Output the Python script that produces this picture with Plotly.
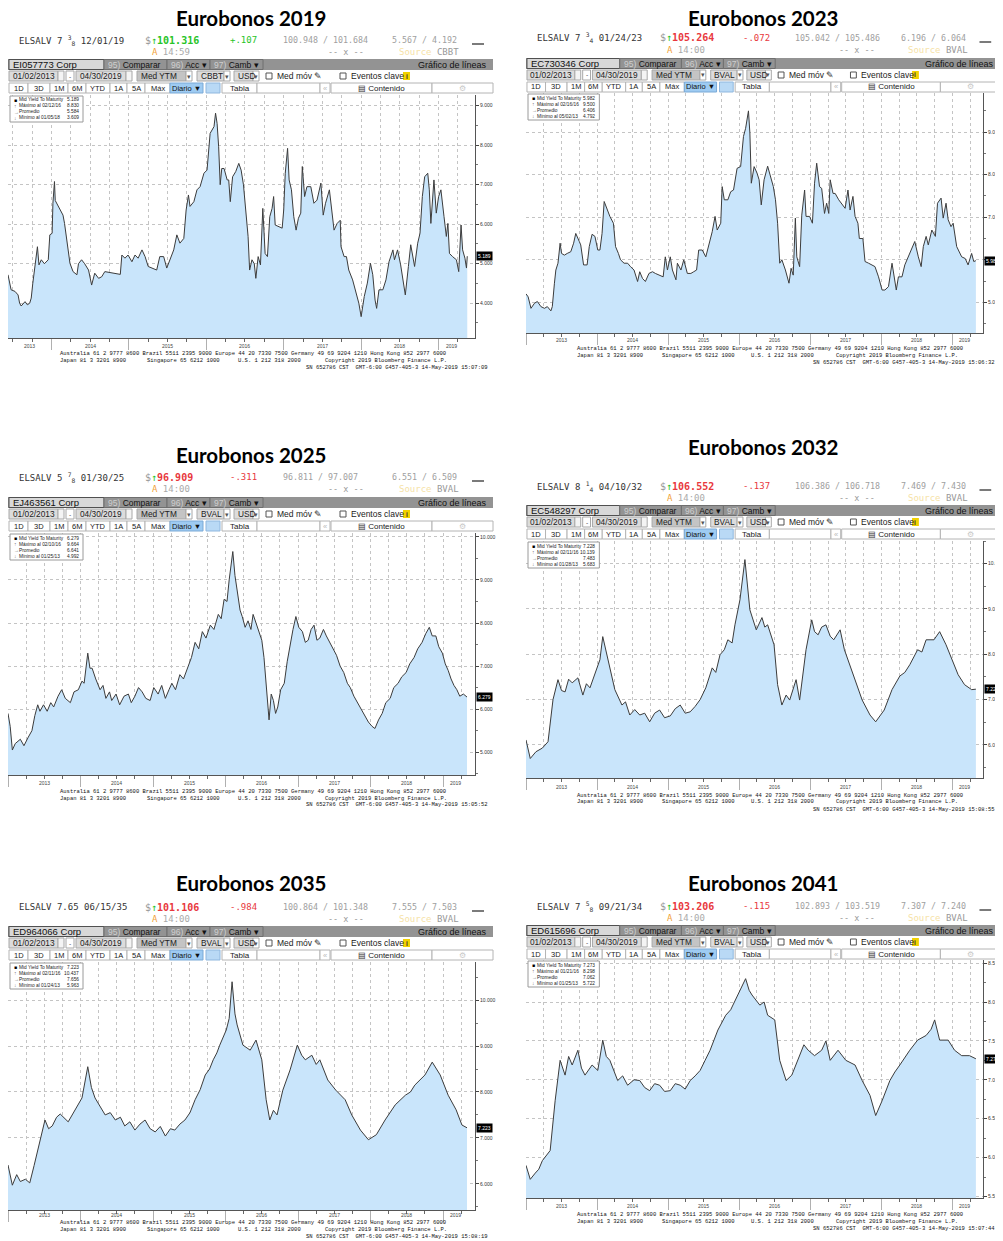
import plotly.graph_objects as go

W, H = 1003, 1241
OFF = 8                      # page body margin of the browser
FW, FH = W - OFF, H - OFF    # figure size so the page does not overflow

# ---------------- data: decimal year / mid yield to maturity (%) ----------------
T2019 = [2013.44, 2013.48, 2013.53, 2013.57, 2013.59, 2013.61, 2013.66, 2013.69, 2013.72, 2013.74,
         2013.76, 2013.79, 2013.82, 2013.84, 2013.87, 2013.91, 2013.96, 2013.98, 2014.01, 2014.02,
         2014.04, 2014.05, 2014.09, 2014.13, 2014.15, 2014.17, 2014.20, 2014.24, 2014.28, 2014.33,
         2014.35, 2014.39, 2014.43, 2014.48, 2014.52, 2014.56, 2014.61, 2014.65, 2014.69, 2014.76,
         2014.82, 2014.89, 2014.91, 2014.95, 2014.99, 2015.04, 2015.08, 2015.12, 2015.17, 2015.21,
         2015.25, 2015.30, 2015.36, 2015.40, 2015.45, 2015.49, 2015.53, 2015.58, 2015.62, 2015.66,
         2015.71, 2015.74, 2015.77, 2015.79, 2015.84, 2015.88, 2015.92, 2015.97, 2016.01, 2016.05,
         2016.10, 2016.12, 2016.14, 2016.16, 2016.18, 2016.20, 2016.23, 2016.27, 2016.29, 2016.31,
         2016.34, 2016.38, 2016.42, 2016.45, 2016.48, 2016.51, 2016.54, 2016.56, 2016.59, 2016.62,
         2016.64, 2016.67, 2016.70, 2016.73, 2016.74, 2016.76, 2016.79, 2016.82, 2016.85, 2016.87,
         2016.89, 2016.94, 2016.98, 2017.00, 2017.02, 2017.05, 2017.07, 2017.10, 2017.13, 2017.16,
         2017.19, 2017.22, 2017.24, 2017.27, 2017.30, 2017.35, 2017.39, 2017.43, 2017.48, 2017.51,
         2017.54, 2017.59, 2017.62, 2017.65, 2017.69, 2017.73, 2017.74, 2017.78, 2017.81, 2017.84,
         2017.89, 2017.93, 2017.97, 2018.00, 2018.04, 2018.08, 2018.12, 2018.15, 2018.18, 2018.20,
         2018.23, 2018.28, 2018.32, 2018.36, 2018.41, 2018.43, 2018.47, 2018.51, 2018.57, 2018.61,
         2018.64, 2018.69, 2018.73, 2018.76, 2018.79, 2018.82, 2018.86, 2018.88, 2018.90, 2018.94,
         2018.97, 2019.00, 2019.03, 2019.07, 2019.10, 2019.12, 2019.14, 2019.18, 2019.23, 2019.26,
         2019.29, 2019.31, 2019.34, 2019.36, 2019.37]
Y2019 = [4.72, 4.34, 4.30, 4.21, 4.00, 3.93, 4.04, 3.96, 4.00, 4.13,
         4.50, 5.00, 5.43, 4.97, 5.10, 5.00, 5.10, 5.73, 5.77, 6.53,
         7.08, 6.60, 6.45, 6.28, 6.23, 6.02, 5.52, 5.01, 4.80, 4.72,
         5.00, 5.10, 5.00, 4.84, 4.46, 4.76, 4.63, 4.67, 4.80, 4.78,
         4.76, 4.73, 5.22, 5.14, 5.22, 5.05, 5.22, 5.14, 5.35, 5.18,
         4.93, 4.89, 4.84, 5.18, 5.18, 4.89, 5.10, 5.35, 5.73, 5.52,
         5.64, 6.36, 6.74, 6.45, 6.57, 6.87, 6.95, 7.29, 7.37, 8.30,
         8.47, 8.81, 8.55, 7.96, 7.00, 7.41, 7.41, 7.12, 7.12, 6.57,
         7.20, 7.33, 7.54, 7.37, 7.00, 6.36, 5.69, 4.84, 5.10, 5.00,
         4.63, 5.18, 4.97, 6.40, 5.85, 5.26, 5.18, 6.19, 6.40, 6.70,
         5.98, 5.94, 5.90, 6.36, 7.29, 7.92, 7.12, 6.87, 6.19, 5.85,
         6.15, 6.28, 7.46, 6.70, 6.95, 6.95, 6.53, 6.61, 7.04, 6.23,
         6.53, 6.87, 6.28, 5.85, 6.02, 6.10, 5.43, 5.18, 5.18, 4.84,
         4.59, 4.30, 4.00, 3.66, 4.17, 4.51, 5.01, 4.72, 4.08, 3.87,
         4.34, 4.34, 4.59, 5.05, 5.35, 5.10, 5.35, 4.97, 4.21, 4.93,
         5.48, 4.93, 5.52, 5.77, 6.70, 7.20, 7.29, 6.87, 6.02, 7.12,
         6.28, 6.70, 6.87, 6.19, 5.69, 6.02, 5.26, 5.18, 5.10, 4.80,
         5.98, 5.35, 5.14, 4.89, 5.19]

T2023 = [2013.00, 2013.03, 2013.07, 2013.12, 2013.16, 2013.21, 2013.26, 2013.30, 2013.35, 2013.37,
         2013.40, 2013.42, 2013.45, 2013.48, 2013.50, 2013.54, 2013.58, 2013.63, 2013.67, 2013.70,
         2013.75, 2013.77, 2013.81, 2013.86, 2013.89, 2013.93, 2013.97, 2014.01, 2014.04, 2014.07,
         2014.10, 2014.14, 2014.18, 2014.23, 2014.26, 2014.30, 2014.33, 2014.38, 2014.43, 2014.47,
         2014.52, 2014.57, 2014.60, 2014.64, 2014.68, 2014.73, 2014.78, 2014.82, 2014.87, 2014.93,
         2014.96, 2014.99, 2015.03, 2015.06, 2015.11, 2015.13, 2015.18, 2015.22, 2015.27, 2015.32,
         2015.36, 2015.40, 2015.43, 2015.48, 2015.53, 2015.57, 2015.62, 2015.66, 2015.69, 2015.74,
         2015.76, 2015.79, 2015.84, 2015.88, 2015.92, 2015.97, 2016.02, 2016.06, 2016.09, 2016.13,
         2016.15, 2016.17, 2016.21, 2016.25, 2016.28, 2016.31, 2016.35, 2016.40, 2016.44, 2016.48,
         2016.51, 2016.54, 2016.57, 2016.60, 2016.65, 2016.70, 2016.73, 2016.76, 2016.79, 2016.81,
         2016.85, 2016.88, 2016.92, 2016.94, 2016.99, 2017.03, 2017.06, 2017.09, 2017.13, 2017.16,
         2017.20, 2017.23, 2017.26, 2017.28, 2017.32, 2017.35, 2017.40, 2017.45, 2017.49, 2017.53,
         2017.56, 2017.60, 2017.63, 2017.67, 2017.69, 2017.74, 2017.77, 2017.82, 2017.87, 2017.91,
         2017.96, 2018.01, 2018.05, 2018.10, 2018.15, 2018.18, 2018.21, 2018.24, 2018.29, 2018.33,
         2018.38, 2018.43, 2018.47, 2018.52, 2018.56, 2018.59, 2018.63, 2018.66, 2018.71, 2018.76,
         2018.79, 2018.84, 2018.87, 2018.91, 2018.94, 2018.98, 2019.01, 2019.06, 2019.10, 2019.13,
         2019.18, 2019.22, 2019.27, 2019.30, 2019.33]
Y2023 = [5.20, 5.13, 4.86, 4.98, 5.02, 4.90, 4.86, 4.90, 4.80, 4.90,
         5.45, 5.76, 5.92, 6.39, 6.15, 6.11, 6.15, 6.19, 6.39, 6.62,
         6.43, 6.35, 5.88, 5.88, 6.31, 6.60, 6.55, 6.23, 6.23, 6.62,
         7.37, 7.17, 7.02, 6.86, 6.31, 6.15, 6.00, 5.92, 5.92, 5.84,
         5.76, 5.49, 5.72, 5.56, 5.49, 5.68, 5.72, 5.68, 5.64, 5.60,
         6.07, 5.76, 6.07, 5.76, 5.53, 5.92, 5.76, 6.00, 5.68, 5.68,
         5.72, 5.76, 6.23, 6.23, 6.07, 6.31, 6.66, 7.02, 6.70, 6.86,
         7.72, 7.41, 7.41, 7.60, 7.64, 8.15, 8.19, 8.90, 9.09, 9.50,
         8.98, 7.80, 8.19, 8.04, 7.88, 7.29, 7.88, 8.20, 7.96, 7.72,
         7.41, 6.86, 5.92, 6.00, 5.76, 5.45, 5.80, 5.64, 6.98, 6.07,
         5.84, 7.05, 7.64, 7.02, 7.02, 6.86, 7.80, 8.27, 7.72, 7.68,
         7.09, 7.33, 7.09, 7.88, 7.56, 7.56, 7.41, 7.29, 7.21, 7.64,
         7.17, 7.49, 7.02, 6.86, 6.50, 6.50, 5.96, 5.92, 5.88, 5.84,
         5.60, 5.29, 5.29, 5.37, 5.92, 5.60, 5.29, 5.60, 5.60, 5.88,
         6.07, 6.27, 6.43, 6.07, 5.84, 6.31, 6.55, 6.35, 6.70, 6.55,
         7.33, 7.45, 6.98, 7.33, 6.94, 6.78, 6.86, 6.31, 6.15, 6.07,
         6.03, 5.88, 6.15, 5.96, 5.98]

T2025 = [2013.00, 2013.03, 2013.06, 2013.10, 2013.17, 2013.22, 2013.28, 2013.33, 2013.37, 2013.41,
         2013.44, 2013.49, 2013.54, 2013.59, 2013.63, 2013.69, 2013.74, 2013.79, 2013.86, 2013.91,
         2013.97, 2014.02, 2014.05, 2014.10, 2014.13, 2014.16, 2014.21, 2014.27, 2014.31, 2014.35,
         2014.40, 2014.43, 2014.49, 2014.54, 2014.60, 2014.66, 2014.70, 2014.75, 2014.80, 2014.85,
         2014.90, 2014.96, 2015.01, 2015.07, 2015.12, 2015.17, 2015.22, 2015.26, 2015.31, 2015.37,
         2015.42, 2015.48, 2015.53, 2015.58, 2015.63, 2015.68, 2015.73, 2015.79, 2015.84, 2015.90,
         2015.94, 2015.98, 2016.02, 2016.05, 2016.10, 2016.13, 2016.16, 2016.20, 2016.23, 2016.27,
         2016.31, 2016.35, 2016.38, 2016.42, 2016.45, 2016.50, 2016.53, 2016.56, 2016.60, 2016.63,
         2016.66, 2016.69, 2016.72, 2016.76, 2016.81, 2016.85, 2016.89, 2016.93, 2016.97, 2017.01,
         2017.06, 2017.10, 2017.14, 2017.18, 2017.22, 2017.26, 2017.30, 2017.35, 2017.39, 2017.44,
         2017.48, 2017.53, 2017.58, 2017.63, 2017.68, 2017.72, 2017.77, 2017.82, 2017.87, 2017.92,
         2017.97, 2018.02, 2018.06, 2018.11, 2018.16, 2018.21, 2018.27, 2018.32, 2018.38, 2018.43,
         2018.49, 2018.54, 2018.60, 2018.65, 2018.71, 2018.76, 2018.81, 2018.85, 2018.90, 2018.94,
         2018.99, 2019.03, 2019.07, 2019.11, 2019.15, 2019.19, 2019.23, 2019.28, 2019.33]
Y2025 = [5.90, 5.60, 5.05, 5.20, 5.30, 5.15, 5.35, 5.50, 5.85, 6.10,
         5.95, 6.10, 5.95, 6.15, 6.05, 6.30, 6.45, 6.25, 6.15, 6.40,
         6.45, 6.65, 6.60, 7.30, 6.95, 6.95, 6.70, 6.45, 6.55, 6.25,
         6.40, 6.20, 6.35, 6.10, 6.30, 6.35, 6.15, 6.30, 6.50, 6.40,
         6.25, 6.20, 6.50, 6.35, 6.55, 6.25, 6.45, 6.60, 6.45, 6.80,
         6.70, 7.00, 7.20, 7.55, 7.40, 7.80, 7.65, 7.95, 7.85, 8.20,
         8.10, 8.55, 8.50, 9.00, 9.66, 9.10, 8.70, 8.30, 8.15, 7.90,
         8.05, 7.85, 8.20, 8.00, 7.90, 7.60, 7.20, 6.60, 5.75, 6.35,
         6.20, 5.90, 6.05, 6.45, 6.60, 7.10, 7.50, 7.85, 8.15, 7.90,
         7.80, 7.55, 7.60, 7.85, 7.95, 7.60, 7.65, 7.85, 7.70, 7.55,
         7.40, 7.25, 7.00, 6.85, 6.60, 6.50, 6.30, 6.15, 6.00, 5.85,
         5.70, 5.60, 5.55, 5.75, 5.90, 6.15, 6.25, 6.50, 6.60, 6.75,
         6.85, 7.05, 7.20, 7.40, 7.55, 7.75, 7.90, 7.70, 7.70, 7.45,
         7.30, 7.05, 6.90, 6.70, 6.55, 6.45, 6.30, 6.35, 6.28]

T2032 = [2013.00, 2013.06, 2013.14, 2013.23, 2013.31, 2013.38, 2013.45, 2013.50, 2013.55, 2013.60,
         2013.65, 2013.73, 2013.80, 2013.85, 2013.90, 2013.98, 2014.04, 2014.08, 2014.15, 2014.20,
         2014.25, 2014.35, 2014.40, 2014.46, 2014.53, 2014.60, 2014.67, 2014.74, 2014.81, 2014.88,
         2014.95, 2015.03, 2015.10, 2015.17, 2015.24, 2015.31, 2015.38, 2015.45, 2015.53, 2015.62,
         2015.67, 2015.73, 2015.79, 2015.84, 2015.90, 2015.94, 2016.01, 2016.08, 2016.12, 2016.15,
         2016.24, 2016.32, 2016.36, 2016.40, 2016.49, 2016.54, 2016.60, 2016.66, 2016.71, 2016.80,
         2016.85, 2016.94, 2017.02, 2017.06, 2017.11, 2017.16, 2017.22, 2017.28, 2017.33, 2017.42,
         2017.48, 2017.53, 2017.63, 2017.73, 2017.84, 2017.92, 2018.04, 2018.10, 2018.15, 2018.26,
         2018.33, 2018.40, 2018.51, 2018.57, 2018.63, 2018.74, 2018.82, 2018.91, 2018.99, 2019.08,
         2019.17, 2019.27, 2019.33]
Y2032 = [6.11, 5.70, 5.85, 5.93, 6.07, 7.00, 7.44, 7.20, 7.17, 7.45,
         7.37, 7.48, 7.10, 7.35, 7.26, 7.61, 7.88, 8.39, 7.88, 7.55,
         7.22, 6.88, 6.95, 6.66, 6.78, 6.66, 6.70, 6.51, 6.70, 6.77,
         6.60, 6.64, 6.80, 6.88, 6.70, 6.73, 6.85, 7.00, 7.26, 7.70,
         7.60, 7.99, 8.10, 8.32, 8.25, 8.65, 9.20, 10.09, 9.40, 8.98,
         8.54, 8.81, 8.60, 8.65, 8.21, 7.33, 6.88, 7.10, 6.99, 7.44,
         6.99, 8.10, 8.76, 8.50, 8.43, 8.60, 8.65, 8.40, 8.32, 8.54,
         8.10, 7.88, 7.44, 6.99, 6.66, 6.51, 6.77, 7.00, 7.22, 7.52,
         7.60, 7.77, 8.10, 8.05, 8.32, 8.32, 8.50, 8.21, 7.88, 7.55,
         7.33, 7.22, 7.23]

T2035 = [2013.00, 2013.06, 2013.12, 2013.17, 2013.24, 2013.30, 2013.36, 2013.41, 2013.51, 2013.56,
         2013.61, 2013.67, 2013.72, 2013.83, 2013.92, 2014.02, 2014.10, 2014.15, 2014.20, 2014.27,
         2014.34, 2014.41, 2014.48, 2014.55, 2014.61, 2014.68, 2014.75, 2014.82, 2014.89, 2014.96,
         2015.03, 2015.10, 2015.17, 2015.24, 2015.30, 2015.37, 2015.44, 2015.51, 2015.58, 2015.65,
         2015.72, 2015.78, 2015.83, 2015.88, 2015.92, 2016.01, 2016.05, 2016.09, 2016.13, 2016.16,
         2016.24, 2016.34, 2016.42, 2016.50, 2016.56, 2016.61, 2016.66, 2016.71, 2016.79, 2016.89,
         2016.99, 2017.05, 2017.10, 2017.19, 2017.25, 2017.30, 2017.41, 2017.52, 2017.65, 2017.74,
         2017.86, 2017.97, 2018.08, 2018.20, 2018.27, 2018.34, 2018.48, 2018.55, 2018.61, 2018.75,
         2018.85, 2018.96, 2019.07, 2019.18, 2019.26, 2019.33]
Y2035 = [6.41, 5.97, 6.20, 6.05, 6.10, 6.02, 6.40, 6.74, 7.39, 7.20,
         7.26, 7.45, 7.52, 7.35, 7.61, 7.87, 8.55, 8.10, 7.87, 7.70,
         7.50, 7.55, 7.39, 7.45, 7.26, 7.35, 7.17, 7.30, 7.39, 7.20,
         7.13, 7.25, 7.04, 7.20, 7.17, 7.30, 7.39, 7.55, 7.83, 8.05,
         8.37, 8.50, 8.70, 8.85, 9.02, 9.35, 9.60, 10.40, 9.70, 9.46,
         9.02, 8.91, 9.13, 8.70, 7.83, 7.39, 7.60, 7.50, 8.04, 8.48,
         9.02, 8.80, 8.70, 8.80, 8.60, 8.70, 8.26, 8.04, 7.83, 7.50,
         7.17, 6.96, 7.07, 7.39, 7.55, 7.72, 7.93, 8.00, 8.15, 8.37,
         8.65, 8.37, 7.93, 7.61, 7.28, 7.22]

T2041 = [2013.00, 2013.06, 2013.13, 2013.18, 2013.23, 2013.34, 2013.41, 2013.48, 2013.55, 2013.60,
         2013.65, 2013.73, 2013.78, 2013.83, 2013.93, 2014.01, 2014.08, 2014.13, 2014.18, 2014.29,
         2014.36, 2014.43, 2014.52, 2014.60, 2014.67, 2014.74, 2014.81, 2014.88, 2014.95, 2015.03,
         2015.10, 2015.17, 2015.24, 2015.31, 2015.38, 2015.45, 2015.52, 2015.59, 2015.70, 2015.81,
         2015.88, 2015.94, 2016.04, 2016.09, 2016.14, 2016.18, 2016.29, 2016.35, 2016.40, 2016.50,
         2016.57, 2016.66, 2016.74, 2016.85, 2016.91, 2016.97, 2017.06, 2017.16, 2017.22, 2017.28,
         2017.39, 2017.50, 2017.63, 2017.73, 2017.84, 2017.92, 2018.01, 2018.12, 2018.19, 2018.26,
         2018.40, 2018.51, 2018.63, 2018.70, 2018.75, 2018.82, 2018.94, 2019.03, 2019.13, 2019.24,
         2019.33]
Y2041 = [5.90, 5.72, 5.80, 5.85, 5.96, 6.09, 6.73, 7.25, 7.06, 7.30,
         7.19, 7.38, 7.15, 7.06, 7.19, 7.12, 7.51, 7.30, 7.25, 6.99,
         7.05, 6.93, 7.00, 6.99, 6.90, 6.86, 6.95, 6.93, 6.85, 6.86,
         6.95, 6.93, 6.88, 6.99, 7.05, 7.12, 7.25, 7.38, 7.64, 7.83,
         7.90, 8.02, 8.22, 8.30, 8.15, 8.09, 7.96, 8.00, 7.83, 7.77,
         7.25, 6.99, 7.06, 7.31, 7.45, 7.38, 7.31, 7.38, 7.50, 7.25,
         7.38, 7.25, 7.19, 6.99, 6.80, 6.54, 6.73, 6.99, 7.10, 7.19,
         7.38, 7.51, 7.57, 7.65, 7.77, 7.51, 7.51, 7.38, 7.31, 7.31,
         7.27]

# legend: last, max date, max, average, min date, min
LEG2019 = ["5.189", "02/12/16", "8.830", "5.584", "01/05/18", "3.609"]
LEG2023 = ["5.982", "02/16/16", "9.500", "6.406", "05/02/13", "4.792"]
LEG2025 = ["6.279", "02/10/16", "9.664", "6.641", "01/25/13", "4.992"]
LEG2032 = ["7.228", "02/11/16", "10.139", "7.483", "01/28/13", "5.683"]
LEG2035 = ["7.223", "02/11/16", "10.437", "7.656", "01/24/13", "5.963"]
LEG2041 = ["7.273", "01/21/16", "8.298", "7.062", "01/25/13", "5.722"]

YEAR_LABELS = [2013, 2014, 2015, 2016, 2017, 2018, 2019]
BUTTONS = ["1D", "3D", "1M", "6M", "YTD", "1A", "5A", "Máx"]

PANELS = [
    dict(title="Eurobonos 2019", ox=8, tw=485, x0=8, x1=475, ty=18, hy=40, tb=59, y0=95, y1=338, xl=346, fy=353,
         t=T2019, v=Y2019, rng=[3.12, 9.27], dt=1, t0=2013.44, t1=2019.47, leg=LEG2019,
         ticker="ELSALV 7 <sup>3</sup><sub>8</sub> 12/01/19", up=True, price="101.316", chg="+.107",
         ba="100.948 / 101.684", yl="5.567 / 4.192", time="14:59", src="CBBT", corp="EI057773 Corp", stamp="15:07:09"),
    dict(title="Eurobonos 2023", ox=526, tw=474, x0=526, x1=983, ty=18, hy=38, tb=58, y0=93, y1=333, xl=340, fy=348,
         t=T2023, v=Y2023, rng=[4.28, 9.92], dt=1, t0=2013.0, t1=2019.43, leg=LEG2023,
         ticker="ELSALV 7 <sup>3</sup><sub>4</sub> 01/24/23", up=False, price="105.264", chg="-.072",
         ba="105.042 / 105.486", yl="6.196 / 6.064", time="14:00", src="BVAL", corp="EC730346 Corp", stamp="15:06:32"),
    dict(title="Eurobonos 2025", ox=8, tw=485, x0=8, x1=475, ty=455, hy=477, tb=497, y0=533, y1=775, xl=783, fy=791,
         t=T2025, v=Y2025, rng=[4.47, 10.09], dt=1, t0=2013.0, t1=2019.44, leg=LEG2025,
         ticker="ELSALV 5 <sup>7</sup><sub>8</sub> 01/30/25", up=False, price="96.909", chg="-.311",
         ba="96.811 / 97.007", yl="6.551 / 6.509", time="14:00", src="BVAL", corp="EJ463561 Corp", stamp="15:05:52"),
    dict(title="Eurobonos 2032", ox=526, tw=474, x0=526, x1=983, ty=447, hy=486, tb=505, y0=541, y1=778, xl=787, fy=795,
         t=T2032, v=Y2032, rng=[5.27, 10.5], dt=1, t0=2013.0, t1=2019.43, leg=LEG2032,
         ticker="ELSALV 8 <sup>1</sup><sub>4</sub> 04/10/32", up=False, price="106.552", chg="-.137",
         ba="106.386 / 106.718", yl="7.469 / 7.430", time="14:00", src="BVAL", corp="EC548297 Corp", stamp="15:08:55"),
    dict(title="Eurobonos 2035", ox=8, tw=485, x0=8, x1=475, ty=883, hy=907, tb=926, y0=962, y1=1210, xl=1215, fy=1222,
         t=T2035, v=Y2035, rng=[5.43, 10.83], dt=1, t0=2013.0, t1=2019.44, leg=LEG2035,
         ticker="ELSALV 7.65 06/15/35", up=False, price="101.106", chg="-.984",
         ba="100.864 / 101.348", yl="7.555 / 7.503", time="14:00", src="BVAL", corp="ED964066 Corp", stamp="15:08:19"),
    dict(title="Eurobonos 2041", ox=526, tw=474, x0=526, x1=983, ty=883, hy=906, tb=925, y0=960, y1=1198, xl=1206, fy=1214,
         t=T2041, v=Y2041, rng=[5.48, 8.54], dt=0.5, t0=2013.0, t1=2019.43, leg=LEG2041,
         ticker="ELSALV 7 <sup>5</sup><sub>8</sub> 09/21/34", up=False, price="103.206", chg="-.115",
         ba="102.893 / 103.519", yl="7.307 / 7.240", time="14:00", src="BVAL", corp="ED615696 Corp", stamp="15:07:44"),
]

SANS = "Liberation Sans"
MONO = "DejaVu Sans Mono"
FMONO = "Liberation Mono"
TITLE = "Lato"

shapes, anns, layout = [], [], {}


def px(x):
    return (x - OFF) / FW


def py(y):
    return 1 - (y - OFF) / FH


def rect(x0, y0, x1, y1, fill, line=None, lw=1):
    shapes.append(dict(type="rect", xref="paper", yref="paper", x0=px(x0), x1=px(x1), y0=py(y1), y1=py(y0),
                       fillcolor=fill, line=dict(color=line or fill, width=lw if line else 0), layer="above"))


def hline(x0, x1, y, color, w=1):
    shapes.append(dict(type="line", xref="paper", yref="paper", x0=px(x0), x1=px(x1), y0=py(y), y1=py(y),
                       line=dict(color=color, width=w), layer="above"))


def txt(x, y, s, size=9, color="#222", anchor="left", family=SANS):
    anns.append(dict(xref="paper", yref="paper", x=px(x), y=py(y), text=s, showarrow=False,
                     xanchor=anchor, yanchor="middle", font=dict(size=size, color=color, family=family)))


fig = go.Figure()

for i, p in enumerate(PANELS, start=1):
    ox, s = p["ox"], p["tw"] / 485.0
    X = lambda r: ox + r * s
    n = "" if i == 1 else str(i)

    # title
    txt(ox + p["tw"] / 2, p["ty"], "<b>%s</b>" % p["title"], 20.5, "#000", "center", TITLE)

    # quote header
    hy = p["hy"]
    green, red = "#27c427", "#e8383d"
    col = green if p["up"] else red
    txt(X(9), hy, p["ticker"], 9, "#333", family=MONO)
    txt(X(135), hy, "<span style='color:#999'>$</span><span style='color:%s'>↑</span><b>%s</b>" % (green, p["price"]),
        10, col, family=MONO)
    txt(X(220), hy, p["chg"], 9, col, family=MONO)
    txt(X(273), hy, p["ba"], 8.3, "#a0a0a0", family=MONO)
    txt(X(382), hy, p["yl"], 8.3, "#a0a0a0", family=MONO)
    hline(X(464), X(476), hy + 4, "#222", 1.2)
    txt(X(142), hy + 12, "<span style='color:#f2a33a'>A</span> " + p["time"], 9, "#aaa", family=MONO)
    txt(X(318), hy + 12, "-- x --", 8.5, "#999", family=MONO)
    txt(X(389), hy + 12, "<span style='color:#f6e2a6'>Source</span> " + p["src"], 9, "#999", family=MONO)

    # toolbar row 1
    tb = p["tb"]
    rect(X(0), tb, X(485), tb + 11, "#939393")
    rect(X(1), tb + 0.5, X(96), tb + 10.5, "#d8d8d8", "#505050")
    txt(X(3), tb + 5.5, p["corp"], 9.5, "#111")
    for a, b, num, lab in [(96, 159, "95)", "Comparar"), (159, 202, "96)", "Acc ▾"), (202, 255, "97)", "Camb ▾")]:
        rect(X(a), tb + 0.5, X(b), tb + 10.5, "#939393", "#6f6f6f")
        txt(X(a + 2), tb + 5.5, "<span style='color:#cfcfcf'>%s</span> %s" % (num, lab), 8.5, "#111")
    txt(X(481), tb + 5.5, "Gráfico de líneas", 9, "#111", "right")

    # toolbar row 2
    r0, r1 = tb + 12, tb + 22
    rm = (r0 + r1) / 2
    rect(X(0), r0 - 0.5, X(485), r1 + 0.5, "#ffffff")
    for a, b, fill, lab in [(1, 50, "#dcdcdc", "01/02/2013"), (50, 56, "#f4f4f4", ""), (58, 66, "#ffffff", "-"),
                            (68, 118, "#dcdcdc", "04/30/2019"), (118, 124, "#f4f4f4", ""),
                            (129, 178, "#c4c4c4", "Med YTM"), (178, 184, "#ffffff", "▾"),
                            (189, 216, "#dcdcdc", p["src"]), (216, 222, "#ffffff", "▾"),
                            (226, 245, "#dcdcdc", "USD"), (245, 251, "#ffffff", "▾")]:
        rect(X(a), r0, X(b), r1, fill, "#a8a8a8")
        if lab:
            if b - a < 10:
                txt((X(a) + X(b)) / 2, rm, lab, 6.5, "#555", "center")
            else:
                txt(X(a + 1.5), rm, lab, 8.3, "#222")
    rect(X(258), rm - 3, X(264), rm + 3, "#ffffff", "#555")
    txt(X(267), rm, "Med móv ✎", 8.5, "#222")
    rect(X(332), rm - 3, X(338), rm + 3, "#ffffff", "#555")
    txt(X(341), rm, "Eventos clave", 8.5, "#222")
    rect(X(395), r0 + 1, X(402), r1 - 1, "#f2d100")
    txt((X(395) + X(402)) / 2, rm, "<b>i</b>", 6.5, "#333", "center")

    # toolbar row 3
    b0, b1 = tb + 24, tb + 34
    bm = (b0 + b1) / 2
    edges = [1, 20, 42, 60, 78, 102, 119, 137, 162]
    for k, lab in enumerate(BUTTONS):
        rect(X(edges[k]), b0, X(edges[k + 1]), b1, "#ffffff", "#b4b4b4")
        txt((X(edges[k]) + X(edges[k + 1])) / 2, bm, lab, 7.5, "#222", "center")
    rect(X(162), b0, X(195), b1, "#9ecbf2", "#7aa9d6")
    txt((X(162) + X(195)) / 2, bm, "Diario ▼", 7.5, "#111", "center")
    rect(X(198), b0, X(212), b1, "#b9d9f5", "#8fb7de")
    rect(X(214), b0, X(249), b1, "#ffffff", "#b4b4b4")
    txt((X(214) + X(249)) / 2, bm, "Tabla", 8, "#222", "center")
    rect(X(249), b0, X(312), b1, "#ffffff", "#b4b4b4")
    rect(X(312), b0, X(322), b1, "#ffffff", "#b4b4b4")
    txt((X(312) + X(322)) / 2, bm, "«", 7.5, "#bbb", "center")
    rect(X(323), b0, X(424), b1, "#ffffff", "#b4b4b4")
    txt((X(323) + X(424)) / 2, bm, "▤ Contenido", 8, "#222", "center")
    rect(X(424), b0, X(485), b1, "#ffffff", "#b4b4b4")
    txt((X(424) + X(485)) / 2, bm, "⚙", 7.5, "#c8c8c8", "center")

    # chart
    fig.add_trace(go.Scatter(x=p["t"], y=p["v"], mode="lines", line=dict(color="#3c3c3c", width=1),
                             fill="tozeroy", fillcolor="#c9e5fb", xaxis="x" + n, yaxis="y" + n,
                             hoverinfo="skip", showlegend=False))
    years = [y for y in YEAR_LABELS if p["t0"] <= y <= p["t1"]]
    quarters = [2013 + 0.25 * k for k in range(27) if p["t0"] <= 2013 + 0.25 * k <= p["t1"]]
    layout["xaxis" + n] = dict(
        domain=[px(p["x0"]), px(p["x1"])], range=[p["t0"], p["t1"]], anchor="y" + n,
        tickmode="array", tickvals=years, showticklabels=False, ticks="outside", ticklen=11,
        tickcolor="#b0b0b0", showgrid=True, gridcolor="#c4c4c4", griddash="dot",
        showline=True, linecolor="#555", zeroline=False, fixedrange=True,
        minor=dict(tickmode="array", tickvals=quarters, ticks="outside", ticklen=3, tickcolor="#666",
                   showgrid=True, gridcolor="#c4c4c4", griddash="dot"))
    layout["yaxis" + n] = dict(
        domain=[py(p["y1"]), py(p["y0"])], range=p["rng"], anchor="x" + n, side="right",
        tickmode="linear", tick0=0, dtick=p["dt"], tickformat=".3f",
        tickfont=dict(size=5, color="#333", family=SANS), ticks="outside", ticklen=3, tickcolor="#444",
        showline=True, linecolor="#555", showgrid=True, gridcolor="#c4c4c4", griddash="dot",
        zeroline=False, fixedrange=True,
        minor=dict(ticks="outside", ticklen=2, tickcolor="#777", dtick=p["dt"] / 2, tick0=0))

    # year labels
    for y in YEAR_LABELS:
        a, b = max(y, p["t0"]), min(y + 1, 2019.33)
        anns.append(dict(xref="x" + n, yref="paper", x=(a + b) / 2, y=py(p["xl"]), text=str(y),
                         showarrow=False, yanchor="middle", font=dict(size=5, color="#444", family=SANS)))

    # last value tag
    anns.append(dict(xref="paper", yref="y" + n, x=px(p["x1"] + 1), y=float(p["leg"][0]), text=p["leg"][0],
                     showarrow=False, xanchor="left", yanchor="middle", bgcolor="#000", borderpad=1,
                     font=dict(size=5, color="#fff", family=SANS)))

    # legend box
    lx0, ly0, lw = p["x0"] + 2, p["y0"] + 1, 73 * s
    rect(lx0, ly0, lx0 + lw, ly0 + 26, "#ffffff", "#9a9a9a")
    leg = p["leg"]
    rows = [("Mid Yield To Maturity", leg[0]), ("Máximo al " + leg[1], leg[2]),
            ("Promedio", leg[3]), ("Mínimo al " + leg[4], leg[5])]
    marks = ["■", "↑", "→", "↓"]
    for k, (lab, val) in enumerate(rows):
        yy = ly0 + 4 + 6 * k
        txt(lx0 + 1.5, yy, marks[k], 5, "#000" if k == 0 else "#777")
        txt(lx0 + 7, yy, lab, 4.8, "#222")
        txt(lx0 + lw - 2, yy, val, 4.8, "#222", "right")

    # footer
    fy = p["fy"]
    txt(X(50), fy, "Australia 61 2 9777 8600 Brazil 5511 2395 9000 Europe 44 20 7330 7500 "
                   "Germany 49 69 9204 1210 Hong Kong 852 2977 6000", 5.5, "#111", family=FMONO)
    txt(X(50), fy + 7, "Japan 81 3 3201 8900", 5.5, "#111", family=FMONO)
    txt(X(137), fy + 7, "Singapore 65 6212 1000", 5.5, "#111", family=FMONO)
    txt(X(228), fy + 7, "U.S. 1 212 318 2000", 5.5, "#111", family=FMONO)
    txt(X(315), fy + 7, "Copyright 2019 Bloomberg Finance L.P.", 5.5, "#111", family=FMONO)
    txt(X(482), fy + 14, "SN 652786 CST  GMT-6:00 G457-405-3 14-May-2019 " + p["stamp"], 5.5, "#111",
        "right", FMONO)

fig.update_layout(width=FW, height=FH, margin=dict(l=0, r=0, t=0, b=0), paper_bgcolor="white",
                  plot_bgcolor="white", showlegend=False, shapes=shapes, annotations=anns, **layout)
fig.write_html("out.html")
